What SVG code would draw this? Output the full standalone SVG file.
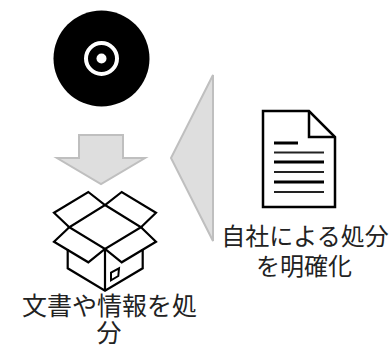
<svg xmlns="http://www.w3.org/2000/svg" width="390" height="348" viewBox="0 0 390 348">
<style>
.arrow{fill:#dedede;stroke:#bfbfbf;stroke-width:2;stroke-linejoin:miter}
.ln{fill:none;stroke:#000;stroke-width:2.2;stroke-linejoin:miter}
.t{font-family:"Noto Sans CJK JP","Noto Sans",sans-serif;font-size:24px;fill:#222;text-anchor:middle}
.big{font-size:25px}
</style>
<g id="connectors">
<polygon class="arrow" points="79,135 123,135 123,158 145,158 101,184 57,158 79,158"/>
<polygon class="arrow" points="213,75 171,158 213,241"/>
</g>
<g id="disc">
<circle cx="101.500" cy="58.500" r="48" fill="#000"/>
<circle cx="101.500" cy="58.500" r="15.500" fill="none" stroke="#fff" stroke-width="4"/>
<circle cx="101.500" cy="58.500" r="5" fill="#fff"/>
</g>
<g id="box">
<path class="ln" d="M105,205L141,227.300L105,249L69.300,227.300Z"/>
<path class="ln" d="M69.300,227.300L54,212.700L88.300,192L105,205L121.700,192L156,212.700L141,227.300"/>
<path class="ln" d="M69.300,227.300L54,241.700L88.300,262.300L105,249L121.700,262.300L156,241.700L141,227.300"/>
<path class="ln" d="M67.700,249V268.300L105,290.700L142.700,268.300V249M105,249V290.700"/>
<path d="M111,272.700L119,268.300L118.300,276L111,280.300Z" fill="none" stroke="#000" stroke-width="2"/>
<text class="t big"><tspan x="109.500" y="315">文書や情報を処</tspan><tspan x="109" y="342">分</tspan></text>
</g>
<g id="document">
<path d="M263,111H309L335,137V207H263Z" fill="none" stroke="#000" stroke-width="2.500"/>
<path d="M309,111V137H335" fill="none" stroke="#000" stroke-width="2.500"/>
<path d="M274,143H298M274,162H324M274,182H324" stroke="#000" stroke-width="3" fill="none"/>
<path d="M274,152.500H324M274,172H324M274,192H324" stroke="#222" stroke-width="2" fill="none"/>
<text class="t"><tspan x="305" y="245">自社による処分</tspan><tspan x="304" y="275">を明確化</tspan></text>
</g>
</svg>
